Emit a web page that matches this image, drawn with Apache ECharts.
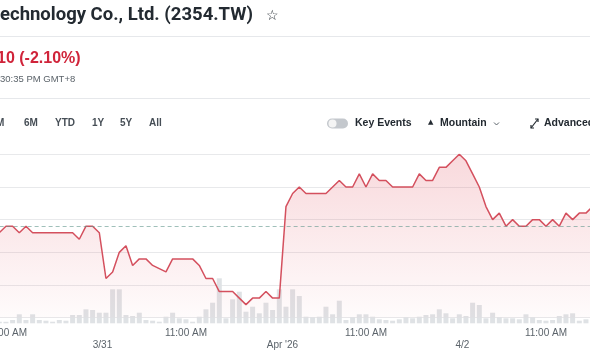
<!DOCTYPE html>
<html>
<head>
    <meta charset="utf-8">
    <title>2354.TW</title>
    <script src="https://cdn.jsdelivr.net/npm/echarts@6/dist/echarts.min.js"></script>
    <style>
        html, body { margin: 0; padding: 0; background: #fff; }
        #chartmain { width: 590px; height: 354px; }
    </style>
</head>
<body>
<div id="chartmain"></div>
<script type="text/javascript">
    // 交易日 和 每10分钟一个点 (09:00 - 13:20)
    var days = ['3/30', '3/31', '4/1', '4/2'];
    var dateLabels = {'3/31': '3/31', '4/1': "Apr '26", '4/2': '4/2'};
    var session = [];
    for (var m = 9 * 60; m <= 13 * 60 + 20; m += 10) {
        var hh = Math.floor(m / 60), mm = m % 60;
        session.push((hh < 10 ? '0' : '') + hh + ':' + (mm < 10 ? '0' : '') + mm);
    }
    var allTimes = [];
    for (var d = 0; d < days.length; d++) {
        for (var s = 0; s < session.length; s++) {
            allTimes.push(days[d] + ' ' + session[s]);
        }
    }
    // 可见区间: 3/30 10:40 起, 共91个点
    var times = allTimes.slice(10, 101);

    var prices = [
        52.8, 52.8, 52.9, 52.9, 52.8, 52.9, 52.8, 52.8, 52.8, 52.8,
        52.8, 52.8, 52.8, 52.7, 52.9, 52.9, 52.8, 52.1, 52.2, 52.5,
        52.6, 52.3, 52.4, 52.4, 52.3, 52.25, 52.2, 52.4, 52.4, 52.4,
        52.4, 52.3, 52.1, 52.1, 51.9, 51.9, 51.9, 51.8, 51.7, 51.8,
        51.8, 51.9, 51.8, 51.8, 53.2, 53.4, 53.5, 53.4, 53.4, 53.4,
        53.4, 53.5, 53.6, 53.5, 53.5, 53.7, 53.5, 53.7, 53.6, 53.6,
        53.5, 53.5, 53.5, 53.5, 53.7, 53.6, 53.6, 53.8, 53.8, 53.9,
        54.0, 53.9, 53.7, 53.5, 53.2, 53.0, 53.1, 52.9, 53.0, 52.9,
        52.9, 53.0, 53.0, 52.9, 53.0, 52.9, 53.1, 53.0, 53.1, 53.1,
        53.2
    ];
    var volumes = [
        200, 160, 150, 330, 900, 330, 900, 330, 260, 160,
        330, 260, 830, 830, 1400, 1330, 1060, 1060, 3400, 3400,
        830, 730, 1060, 330, 260, 160, 660, 1060, 500, 400,
        160, 660, 1400, 2060, 4500, 500, 2400, 3160, 1160, 1660,
        1000, 2060, 1330, 3400, 1660, 3400, 2730, 660, 600, 660,
        1660, 900, 2260, 330, 600, 900, 900, 660, 400, 330,
        260, 400, 600, 500, 660, 830, 900, 1400, 1000, 500,
        900, 730, 2060, 1830, 500, 1060, 600, 500, 500, 400,
        900, 600, 330, 260, 330, 730, 900, 1000, 260, 400,
        300
    ];
    var prevClose = 52.9;
    var priceTicks = [51.5, 54.0, 0.5]; // min, max, interval

    var font = 'Liberation Sans, Arial, sans-serif';
    var dark = '#232a31';
    var grey = '#5b636a';

    var myChart = echarts.init(document.getElementById('chartmain'));

    var option = {
        animation: false,
        backgroundColor: '#fff',
        textStyle: {fontFamily: font},
        grid: [
            {left: -7.37, right: -2.63, top: 154.3, bottom: 36.3, containLabel: false, outerBoundsMode: 'none'},
            {left: -7.37, right: -2.63, top: 263.3, bottom: 30.7, containLabel: false, outerBoundsMode: 'none'}
        ],
        xAxis: [
            {
                type: 'category', gridIndex: 0, data: times, boundaryGap: false,
                axisLine: {show: false}, axisTick: {show: false}, axisLabel: {show: false}
            },
            {
                type: 'category', gridIndex: 1, data: times, boundaryGap: false, position: 'bottom',
                axisLine: {show: false}, axisTick: {show: false},
                axisLabel: {
                    interval: 0, margin: 5, color: grey, fontSize: 10, fontFamily: font,
                    formatter: function (v) {
                        return v.slice(-5) === '11:00' ? '11:00 AM' : '';
                    }
                }
            },
            {
                type: 'category', gridIndex: 1, data: times, boundaryGap: false, position: 'bottom', offset: 12,
                axisLine: {show: false}, axisTick: {show: false},
                axisLabel: {
                    interval: 0, margin: 5, color: grey, fontSize: 10, fontFamily: font,
                    formatter: function (v) {
                        var p = v.split(' ');
                        if (p[1] === '09:00' && dateLabels[p[0]]) {
                            return '{d|' + dateLabels[p[0]] + '}';
                        }
                        return '';
                    },
                    rich: {d: {padding: [0, 7, 0, 0], color: grey, fontSize: 10, fontFamily: font}}
                }
            }
        ],
        yAxis: [
            {
                type: 'value', gridIndex: 0,
                min: priceTicks[0], max: priceTicks[1], interval: priceTicks[2],
                axisLabel: {show: false}, axisLine: {show: false}, axisTick: {show: false},
                splitLine: {lineStyle: {color: '#e8e9eb', width: 1}}
            },
            {
                type: 'value', gridIndex: 1, min: 0, max: 6000,
                show: false, splitLine: {show: false}
            }
        ],
        series: [
            {
                name: 'Volume', type: 'bar', xAxisIndex: 1, yAxisIndex: 1,
                data: volumes, barWidth: 5,
                itemStyle: {color: '#dfe2e5'},
                z: 1
            },
            {
                name: '2354.TW', type: 'line', xAxisIndex: 0, yAxisIndex: 0,
                data: prices, symbol: 'none', smooth: false,
                lineStyle: {color: '#d4505e', width: 1.5},
                areaStyle: {
                    color: new echarts.graphic.LinearGradient(0, 0, 0, 1, [
                        {offset: 0, color: 'rgba(226,86,100,0.32)'},
                        {offset: 1, color: 'rgba(226,86,100,0.03)'}
                    ])
                },
                markLine: {
                    silent: true, symbol: 'none', label: {show: false},
                    lineStyle: {color: 'rgba(96,150,140,0.6)', type: [4, 3], width: 1},
                    data: [{yAxis: prevClose}]
                },
                z: 3
            }
        ],
        graphic: [
            {type: 'text', left: 0, top: 6, style: {text: 'echnology Co., Ltd. (2354.TW)', font: 'bold 18.5px Roboto, ' + font, fill: dark}},
            {type: 'text', left: 266, top: 9, style: {text: '☆', font: '14px DejaVu Sans', fill: dark}},
            {type: 'rect', shape: {x: 0, y: 36, width: 590, height: 1}, style: {fill: '#e6e8eb'}},
            {type: 'text', left: -3, top: 51, style: {text: '10 (-2.10%)', font: 'bold 16px ' + font, fill: '#d0243a'}},
            {type: 'text', left: 0, top: 74, style: {text: '30:35 PM GMT+8', font: '9.5px ' + font, fill: grey}},
            {type: 'rect', shape: {x: 0, y: 98, width: 590, height: 1}, style: {fill: '#e6e8eb'}},
            {type: 'text', left: -4, top: 118, style: {text: 'M', font: 'bold 10px ' + font, fill: '#464e56'}},
            {type: 'text', left: 24, top: 118, style: {text: '6M', font: 'bold 10px ' + font, fill: '#464e56'}},
            {type: 'text', left: 55, top: 118, style: {text: 'YTD', font: 'bold 10px ' + font, fill: '#464e56'}},
            {type: 'text', left: 92, top: 118, style: {text: '1Y', font: 'bold 10px ' + font, fill: '#464e56'}},
            {type: 'text', left: 120, top: 118, style: {text: '5Y', font: 'bold 10px ' + font, fill: '#464e56'}},
            {type: 'text', left: 149, top: 118, style: {text: 'All', font: 'bold 10px ' + font, fill: '#464e56'}},
            {type: 'rect', shape: {x: 327, y: 118.5, width: 21, height: 10, r: 5}, style: {fill: '#c4c8cd'}},
            {type: 'circle', shape: {cx: 332.5, cy: 123.5, r: 4}, style: {fill: '#f4f4f4'}},
            {type: 'text', left: 355, top: 118, style: {text: 'Key Events', font: 'bold 10.5px ' + font, fill: dark}},
            {type: 'text', left: 428, top: 119, style: {text: '▲', font: '7px DejaVu Sans', fill: dark}},
            {type: 'text', left: 440, top: 118, style: {text: 'Mountain', font: 'bold 10.5px ' + font, fill: dark}},
            {type: 'polyline', shape: {points: [[494, 122.5], [496.5, 125], [499, 122.5]]}, style: {stroke: grey, lineWidth: 1, fill: null}},
            {type: 'line', shape: {x1: 531, y1: 128, x2: 538, y2: 119}, style: {stroke: dark, lineWidth: 1.2}},
            {type: 'polyline', shape: {points: [[535, 119], [538, 119], [538, 122]]}, style: {stroke: dark, lineWidth: 1.2, fill: null}},
            {type: 'polyline', shape: {points: [[531, 125], [531, 128], [534, 128]]}, style: {stroke: dark, lineWidth: 1.2, fill: null}},
            {type: 'text', left: 544, top: 118, style: {text: 'Advanced', font: 'bold 10.5px ' + font, fill: dark}}
        ]
    };
    myChart.setOption(option);
</script>
</body>
</html>
